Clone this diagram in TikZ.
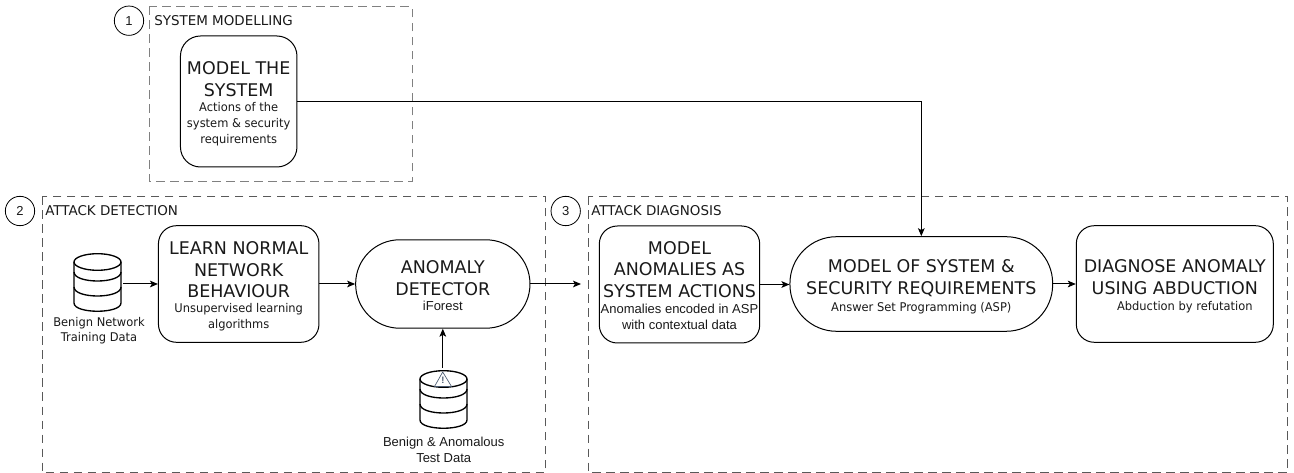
\documentclass[tikz,border=0pt]{standalone}
\usepackage{fontspec}
\usetikzlibrary{arrows.meta}
\setmainfont{Liberation Sans}
\newfontfamily\tahomalike{DejaVu Sans}
\newfontfamily\tahomasub[FakeStretch=0.955]{DejaVu Sans}
\newcommand{\hd}{\tahomalike\fontsize{13.1}{15.75}\selectfont}
\newcommand{\sbt}{\tahomasub\fontsize{9}{11.6}\selectfont}
\newcommand{\sba}{\rmfamily\fontsize{9.75}{11.6}\selectfont}
\newcommand{\lbl}{\tahomalike\fontsize{10.1}{12}\selectfont}
\definecolor{warn}{HTML}{4A5A70}
\tikzset{
  x=0.75pt,y=-0.75pt,
  every node/.style={text=black!90},
  link/.style={draw=black,line width=0.75pt,-{Stealth[length=6pt,width=5pt,inset=1.4pt]}},
  zone/.style={draw=black!65,line width=0.75pt,dash pattern=on 6.5pt off 4pt},
  stage/.style={circle,draw=black,line width=0.6pt,minimum size=22pt,inner sep=0pt,font=\sba},
  zonelabel/.style={anchor=west,inner sep=0pt,font=\lbl},
  rbox/.style={draw=black,line width=0.75pt,rounded corners=13.5pt,align=center,inner sep=0pt},
  dbbody/.style={draw=black,line width=1pt},
  dbnode/.style={minimum width=35.25pt,minimum height=44.25pt,inner sep=0pt,outer sep=1.5pt},
  caption/.style={align=center,inner sep=0pt},
}
\begin{document}
\begin{tikzpicture}
\useasboundingbox (0,0) rectangle (1294,473);
% zones
\draw[zone,draw=black!50] (149.5,6.5) rectangle (412,181.7);
\draw[zone] (42,196.5) rectangle (545.5,472.7);
\draw[zone] (588.5,196.5) rectangle (1287.7,472.7);
\node[stage] (s1) at (129,20.7) {1};
\node[stage] (s2) at (20,211) {2};
\node[stage] (s3) at (565.7,211) {3};
\node[zonelabel] (l1) at (154,21) {SYSTEM MODELLING};
\node[zonelabel] (l2) at (45,211) {ATTACK DETECTION};
\node[zonelabel] (l3) at (591,211) {ATTACK DIAGNOSIS};
% boxes
\node[rbox,rounded corners=15pt,minimum width=116.5*.75pt,minimum height=131*.75pt] (model) at (238.7,101.5)
  {\hd MODEL THE\\[4.15pt]\hd SYSTEM\\[-0.4pt]\sbt Actions of the\\\sbt system \& security\\\sbt requirements\\[-13.5pt]};
\node[rbox,minimum width=160.5*.75pt,minimum height=116.6*.75pt] (learn) at (238.7,284)
  {\hd LEARN NORMAL\\[4.15pt]\hd NETWORK\\[3.7pt]\hd BEHAVIOUR\\[-0.4pt]\sbt Unsupervised learning\\\sbt algorithms\\[-14pt]};
\node[rbox,rounded corners=33pt,minimum width=174.3*.75pt,minimum height=88.4*.75pt] (detector) at (442.8,284)
  {\hd ANOMALY\\[4.15pt]\hd DETECTOR\\[-0.4pt]\sba iForest\\[-15pt]};
\node[rbox,minimum width=160.4*.75pt,minimum height=117*.75pt] (anom) at (679.5,284.5)
  {\hd MODEL\\[4.15pt]\hd ANOMALIES AS\\[4.15pt]\hd SYSTEM ACTIONS\\[0.4pt]\sba Anomalies encoded in ASP\\\sba with contextual data\\[-13.5pt]};
\node[rbox,rounded corners=35pt,minimum width=262.7*.75pt,minimum height=94.6*.75pt] (req) at (921.3,284)
  {\hd MODEL OF SYSTEM \&\\[4.15pt]\hd SECURITY REQUIREMENTS\\[1pt]\sbt Answer Set Programming (ASP)\\[-14.5pt]};
\node[rbox,minimum width=197*.75pt,minimum height=116.6*.75pt] (diag) at (1174.8,284)
  {\hd DIAGNOSE ANOMALY\\[4.15pt]\hd USING ABDUCTION\\[0.5pt]\hspace*{15pt}\sbt Abduction by refutation\\[-14pt]};
% databases
\node[dbnode] (db1) at (97.5,282.5) {};
\node[dbnode] (db2) at (443.5,399.5) {};
\foreach \cx/\ct in {97.5/262,443.5/379}{
  \draw[dbbody] (\cx,\ct) ellipse [x radius=23.5,y radius=8.3];
  \draw[dbbody] (\cx-23.5,\ct) -- (\cx-23.5,\ct+41)
     .. controls (\cx-23.5,\ct+52) and (\cx+23.5,\ct+52) .. (\cx+23.5,\ct+41) -- (\cx+23.5,\ct);
  \draw[dbbody] (\cx-23.5,\ct+10) .. controls (\cx-23.5,\ct+22) and (\cx+23.5,\ct+22) .. (\cx+23.5,\ct+10);
  \draw[dbbody] (\cx-23.5,\ct+25) .. controls (\cx-23.5,\ct+37) and (\cx+23.5,\ct+37) .. (\cx+23.5,\ct+25);
}
% warning sign
\draw[warn,line width=0.5pt,line join=round] (442.7,372) -- (451.5,386.5) -- (434.5,386.5) -- cycle;
\node[inner sep=0pt,text=warn,font=\rmfamily\bfseries\fontsize{7}{7}\selectfont] (warnmark) at (442.9,380.5) {!};
\node[caption,font=\sbt] (c1) at (99,330.5) {Benign Network\\Training Data};
\node[caption,font=\sba] (c2) at (443.7,449.7) {Benign \& Anomalous\\Test Data};
% connectors
\coordinate (free) at (581,284);
\draw[link] (db1.east |- learn.west) -- (learn.west);
\draw[link] (learn.east) -- (detector.west);
\draw[link] (detector.east) -- (free);
\draw[link] (db2.north -| detector.south) -- (detector.south);
\draw[link] (anom.east) -- (anom.east -| req.west);
\draw[link] (req.east) -- (req.east -| diag.west);
\draw[link] (model.east) -| (req.north);
\end{tikzpicture}
\end{document}
